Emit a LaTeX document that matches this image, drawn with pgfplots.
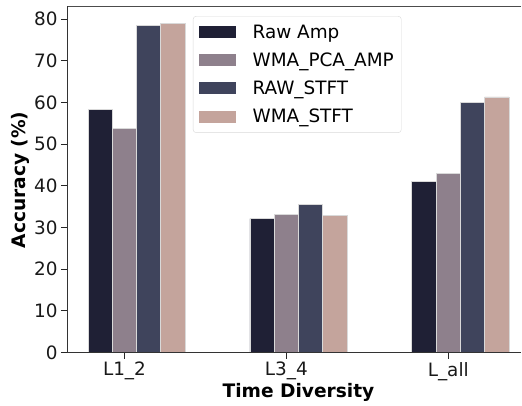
\documentclass[border=0pt]{standalone}
\usepackage{fontspec}
\setmainfont{DejaVu Sans}
\usepackage{pgfplots}
\pgfplotsset{compat=1.18}
\definecolor{c1}{HTML}{1F2035}
\definecolor{c2}{HTML}{8E808C}
\definecolor{c3}{HTML}{3F445C}
\definecolor{c4}{HTML}{C4A49C}
\begin{document}
\begin{tikzpicture}
\useasboundingbox (-67pt,-52.4pt) rectangle (455pt,352.6pt);
\begin{axis}[
 at={(0,0)}, anchor=south west,
 scale only axis, width=463pt, height=346.6pt,
 xmin=-0.205, xmax=2.655, ymin=0, ymax=83.1,
 clip=false,
 axis lines=left,
 axis line style={draw=none},
 ybar, bar width=0.15, bar shift=0pt,
 xtick={0.15,1.15,2.15}, xticklabels={L1\_2,L3\_4,L\_all},
 ytick={0,10,...,80},
 tick align=outside,
 major tick length=6pt,
 tick style={black!85, line width=0.8pt},
 /pgf/number format/assume math mode=true,
 tick label style={font=\fontsize{18.4}{21}\selectfont, text=black!90},
 xlabel={Time Diversity}, ylabel={Accuracy (\%)},
 label style={font=\fontsize{18.6}{21}\selectfont\bfseries},
 xlabel style={at={(axis description cs:0.5,0)}, anchor=base, yshift=-44.6pt},
 ylabel style={at={(axis description cs:-0.1004,0.498)}, anchor=center},
 legend style={at={(axis description cs:0.272,0.971)}, anchor=north west, draw=black!15, rounded corners=3pt, fill=white, font=\fontsize{18.4}{21}\selectfont, row sep=9pt, inner xsep=5.5pt, inner ysep=6.5pt, /tikz/every odd column/.append style={column sep=15pt}},
 legend cell align=left,
 legend image code/.code={\fill[#1,draw=none,sharp corners] (0pt,-6pt) rectangle (37pt,6pt);},
]
\addplot[fill=c1, draw=white!85!black, line width=0.8pt] coordinates {(0,58.4) (1,32.1) (2,41.1)};
\addplot[fill=c2, draw=white!85!black, line width=0.8pt] coordinates {(0.15,53.7) (1.15,33.2) (2.15,42.9)};
\addplot[fill=c3, draw=white!85!black, line width=0.8pt] coordinates {(0.3,78.5) (1.3,35.5) (2.3,59.9)};
\addplot[fill=c4, draw=white!85!black, line width=0.8pt] coordinates {(0.45,78.9) (1.45,32.8) (2.45,61.3)};
\legend{Raw Amp, WMA\_PCA\_AMP, RAW\_STFT, WMA\_STFT}
\draw[black!70, line width=0.9pt] (axis cs:2.60,83.1) -- (rel axis cs:0,1);
\draw[black!80, line width=0.9pt] (rel axis cs:0,1) -- (rel axis cs:0,0) -- (axis cs:2.60,0);
\end{axis}
\end{tikzpicture}
\end{document}
